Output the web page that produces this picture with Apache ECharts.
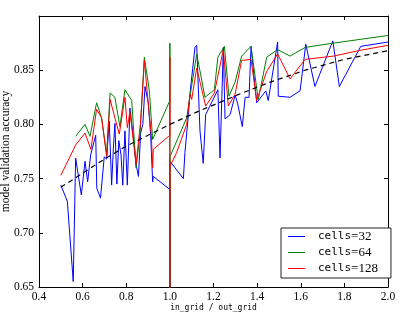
<!DOCTYPE html>
<html>
<head>
<meta charset="utf-8">
<script src="https://cdn.jsdelivr.net/npm/echarts@6/dist/echarts.min.js"></script>
<style>
  html, body { margin: 0; padding: 0; background: #fff; }
  #chart { width: 415px; height: 321px; }
</style>
</head>
<body>
<div id="chart"></div>
<script>
// cells=32
var blueX = [0.500, 0.530, 0.557, 0.568, 0.594, 0.611, 0.623, 0.637, 0.660, 0.665, 0.682, 0.699, 0.710, 0.722, 0.733, 0.741, 0.748, 0.757, 0.766, 0.776,
             0.784, 0.794, 0.805, 0.817, 0.829, 0.838, 0.845, 0.856, 0.866, 0.876, 0.886, 0.901, 0.912, 0.921, 0.924, 1.000, 1.000, 1.000, 1.062, 1.069,
             1.085, 1.092, 1.115, 1.123, 1.138, 1.153, 1.164, 1.220, 1.230, 1.245, 1.253, 1.276, 1.299, 1.311, 1.332, 1.345, 1.363, 1.372, 1.398, 1.440,
             1.451, 1.494, 1.497, 1.551, 1.597, 1.623, 1.665, 1.747, 1.777, 1.875, 2.000];
var blueY = [0.744, 0.729, 0.655, 0.769, 0.735, 0.766, 0.747, 0.772, 0.790, 0.741, 0.732, 0.770, 0.768, 0.803, 0.744, 0.778, 0.801, 0.745, 0.785, 0.772,
             0.744, 0.794, 0.744, 0.815, 0.794, 0.778, 0.763, 0.752, 0.792, 0.800, 0.835, 0.820, 0.790, 0.747, 0.752, 0.740, 0.550, 0.766, 0.750, 0.774,
             0.809, 0.828, 0.871, 0.873, 0.794, 0.764, 0.809, 0.832, 0.769, 0.871, 0.805, 0.809, 0.827, 0.819, 0.798, 0.825, 0.825, 0.872, 0.820, 0.831,
             0.822, 0.876, 0.826, 0.825, 0.831, 0.874, 0.835, 0.877, 0.835, 0.872, 0.876];

// cells=64
var greenX = [0.568, 0.611, 0.634, 0.664, 0.687, 0.710, 0.726, 0.748, 0.771, 0.794, 0.825, 0.845, 0.863, 0.883, 0.906, 0.921, 1.000, 1.000, 1.000, 1.000,
              1.077, 1.097, 1.123, 1.161, 1.204, 1.220, 1.250, 1.271, 1.299, 1.329, 1.372, 1.405, 1.444, 1.494, 1.551, 1.620, 1.750, 2.000];
var greenY = [0.789, 0.800, 0.789, 0.820, 0.806, 0.772, 0.829, 0.825, 0.798, 0.832, 0.822, 0.760, 0.791, 0.862, 0.831, 0.786, 0.822, 0.875, 0.550, 0.770,
              0.806, 0.832, 0.865, 0.825, 0.832, 0.862, 0.872, 0.826, 0.839, 0.863, 0.872, 0.823, 0.862, 0.869, 0.863, 0.871, 0.875, 0.882];

// cells=128
var redX = [0.500, 0.568, 0.611, 0.638, 0.664, 0.687, 0.710, 0.726, 0.748, 0.768, 0.794, 0.805, 0.817, 0.845, 0.866, 0.883, 0.901, 0.915, 0.921, 0.924,
            1.000, 1.000, 1.000, 1.000, 1.031, 1.077, 1.092, 1.100, 1.123, 1.164, 1.204, 1.245, 1.268, 1.299, 1.329, 1.372, 1.398, 1.444, 1.494, 1.551,
            1.620, 1.750, 1.864, 2.000];
var redY = [0.753, 0.781, 0.792, 0.777, 0.814, 0.806, 0.771, 0.823, 0.806, 0.791, 0.825, 0.797, 0.812, 0.763, 0.803, 0.859, 0.819, 0.790, 0.760, 0.777,
            0.790, 0.862, 0.550, 0.761, 0.774, 0.800, 0.828, 0.823, 0.852, 0.817, 0.829, 0.869, 0.817, 0.828, 0.859, 0.860, 0.822, 0.849, 0.865, 0.842,
            0.860, 0.863, 0.868, 0.873];

// dashed trend
var fitX = [0.50, 0.60, 0.70, 0.80, 0.90, 1.00, 1.13, 1.32, 1.46, 1.62, 1.80, 2.00];
var fitY = [0.742, 0.755, 0.768, 0.780, 0.790, 0.800, 0.812, 0.828, 0.839, 0.850, 0.860, 0.868];

var seriesNames = ['cells=32', 'cells=64', 'cells=128'];

function pairs(xs, ys) {
  var out = [];
  for (var i = 0; i < xs.length; i++) {
    out.push([xs[i], ys[i]]);
  }
  return out;
}

var chartDom = document.getElementById('chart');
var myChart = echarts.init(chartDom, null, { renderer: 'canvas' });
var serif = 'Liberation Serif';
var mono = 'DejaVu Sans Mono';

var xBase = {
  type: 'value', min: 0.4, max: 2.0, interval: 0.2,
  axisLine: { show: true, onZero: false, lineStyle: { color: '#000', width: 1 } },
  axisTick: { show: true, inside: true, length: 4, lineStyle: { color: '#000' } },
  splitLine: { show: false }
};
var yBase = {
  type: 'value', min: 0.65, max: 0.90, interval: 0.05,
  axisLine: { show: true, onZero: false, lineStyle: { color: '#000', width: 1 } },
  axisTick: { show: true, inside: true, length: 4, lineStyle: { color: '#000' } },
  splitLine: { show: false }
};

var option = {
  animation: false,
  grid: { left: 39, right: 27, top: 16, bottom: 34, containLabel: false, outerBoundsMode: 'none' },
  legend: {
    data: seriesNames,
    orient: 'vertical',
    left: 281,
    top: 228,
    padding: [2, 13, 3, 7],
    itemGap: 3,
    icon: 'rect',
    itemWidth: 17,
    itemHeight: 1,
    backgroundColor: '#fff',
    borderColor: '#222',
    borderWidth: 1,
    borderRadius: 0,
    formatter: function (name) {
      return '{m|cells}{s|' + name.slice(5) + '}';
    },
    textStyle: {
      rich: {
        m: { fontFamily: mono, fontSize: 11, color: '#000', padding: [0, 0, 0, 8], lineHeight: 14 },
        s: { fontFamily: serif, fontSize: 13, color: '#000', lineHeight: 14 }
      }
    }
  },
  xAxis: [
    Object.assign({}, xBase, {
      position: 'bottom',
      name: 'in_grid / out_grid',
      nameLocation: 'middle',
      nameGap: 17,
      nameMoveOverlap: false,
      nameTextStyle: { fontFamily: mono, fontSize: 8, color: '#000' },
      axisLabel: { show: true, margin: 4, fontFamily: serif, fontSize: 11.5, color: '#000',
                   showMinLabel: true, showMaxLabel: true,
                   formatter: function (v) { return v.toFixed(1); } }
    }),
    Object.assign({}, xBase, { position: 'top', axisLabel: { show: false } })
  ],
  yAxis: [
    Object.assign({}, yBase, {
      position: 'left',
      name: 'model validation accuracy',
      nameLocation: 'middle',
      nameRotate: 90,
      nameGap: 27,
      nameMoveOverlap: false,
      nameTextStyle: { fontFamily: serif, fontSize: 11.5, color: '#000' },
      axisLabel: { show: true, margin: 5, fontFamily: serif, fontSize: 11.5, color: '#000',
                   showMinLabel: true, showMaxLabel: false,
                   formatter: function (v) { return v.toFixed(2); } }
    }),
    Object.assign({}, yBase, { position: 'right', axisLabel: { show: false } })
  ],
  series: [
    {
      name: seriesNames[0], type: 'line', data: pairs(blueX, blueY),
      symbol: 'none', clip: true, z: 2,
      lineStyle: { color: '#0000ff', width: 1 }, itemStyle: { color: '#0000ff' }
    },
    {
      name: seriesNames[1], type: 'line', data: pairs(greenX, greenY),
      symbol: 'none', clip: true, z: 3,
      lineStyle: { color: '#008000', width: 1 }, itemStyle: { color: '#008000' }
    },
    {
      name: seriesNames[2], type: 'line', data: pairs(redX, redY),
      symbol: 'none', clip: true, z: 4,
      lineStyle: { color: '#ff0000', width: 1 }, itemStyle: { color: '#ff0000' }
    },
    {
      name: 'fit', type: 'line', data: pairs(fitX, fitY),
      symbol: 'none', clip: true, z: 5,
      lineStyle: { color: '#000', width: 1.2, type: [5, 4] }, itemStyle: { color: '#000' }
    }
  ]
};

if (option && typeof option === 'object') {
  myChart.setOption(option);
}
window.addEventListener('resize', myChart.resize);
</script>
</body>
</html>
